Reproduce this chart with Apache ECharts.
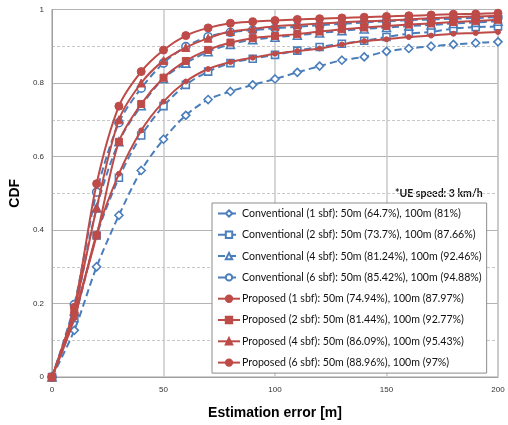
<!DOCTYPE html>
<html>
<head>
<meta charset="utf-8">
<script src="https://cdn.jsdelivr.net/npm/echarts@6/dist/echarts.min.js"></script>
<style>html,body{margin:0;padding:0;background:#fff;}#c{width:508px;height:425px;}</style>
</head>
<body>
<div id="c"></div>
<script>
const xValues = [0,10,20,30,40,50,60,70,80,90,100,110,120,130,140,150,160,170,180,190,200];
const xTicks = [0,50,100,150,200];
const yTicks = [0,0.2,0.4,0.6,0.8,1];
const seriesNames = [
  'Conventional (1 sbf): 50m (64.7%), 100m (81%)',
  'Conventional (2 sbf): 50m (73.7%), 100m (87.66%)',
  'Conventional (4 sbf): 50m (81.24%), 100m (92.46%)',
  'Conventional (6 sbf): 50m (85.42%), 100m (94.88%)',
  'Proposed (1 sbf): 50m (74.94%), 100m (87.97%)',
  'Proposed (2 sbf): 50m (81.44%), 100m (92.77%)',
  'Proposed (4 sbf): 50m (86.09%), 100m (95.43%)',
  'Proposed (6 sbf): 50m (88.96%), 100m (97%)'
];
const conv1 = [0,0.127,0.30,0.44,0.562,0.647,0.712,0.755,0.777,0.795,0.811,0.829,0.846,0.862,0.871,0.886,0.894,0.900,0.905,0.909,0.912];
const conv2 = [0,0.16,0.385,0.542,0.657,0.737,0.795,0.831,0.854,0.866,0.8766,0.888,0.898,0.907,0.915,0.925,0.934,0.939,0.948,0.952,0.954];
const conv4 = [0,0.18,0.46,0.64,0.738,0.8124,0.854,0.885,0.905,0.918,0.9246,0.930,0.936,0.942,0.947,0.951,0.955,0.958,0.962,0.965,0.968];
const conv6 = [0,0.197,0.503,0.692,0.786,0.8542,0.899,0.926,0.938,0.944,0.9488,0.953,0.957,0.961,0.965,0.968,0.971,0.973,0.975,0.977,0.979];
const prop1 = [0,0.16,0.39,0.553,0.671,0.7494,0.804,0.838,0.857,0.869,0.8797,0.887,0.894,0.905,0.914,0.919,0.925,0.929,0.934,0.936,0.939];
const prop2 = [0,0.175,0.385,0.64,0.743,0.8144,0.860,0.890,0.910,0.922,0.9277,0.933,0.940,0.946,0.951,0.955,0.959,0.962,0.966,0.969,0.972];
const prop4 = [0,0.185,0.46,0.70,0.80,0.8609,0.8965,0.922,0.940,0.947,0.9543,0.958,0.962,0.965,0.968,0.970,0.973,0.976,0.979,0.981,0.983];
const prop6 = [0,0.19,0.526,0.737,0.831,0.8896,0.929,0.950,0.9626,0.967,0.970,0.973,0.975,0.977,0.979,0.981,0.983,0.985,0.987,0.988,0.990];

const BLUE = '#4A7EBB', RED = '#BE4B48';
const values = [conv1, conv2, conv4, conv6, prop1, prop2, prop4, prop6];
const symbols = ['diamond','rect','triangle','circle','circle','rect','triangle','circle'];
const sizes = [8,7,8,8,5,7,8,8];

const series = values.map((v, i) => {
  const conv = i < 4;
  const col = conv ? BLUE : RED;
  return {
    name: seriesNames[i],
    type: 'line',
    data: xValues.map((x, k) => [x, v[k]]),
    symbol: symbols[i],
    symbolSize: sizes[i],
    showAllSymbol: true,
    smooth: 0.3,
    lineStyle: {color: col, width: 2, type: conv ? [7,4] : 'solid'},
    itemStyle: conv ? {color: '#fff', borderColor: col, borderWidth: 1.6} : {color: col, borderColor: col, borderWidth: 1},
    emphasis: {disabled: true},
    z: conv ? 2 : 3
  };
});

const chart = echarts.init(document.getElementById('c'), null, {renderer: 'canvas'});
chart.setOption({
  animation: false,
  backgroundColor: '#fff',
  grid: {left: 52, right: 10, top: 9.5, bottom: 46.5, show: true, borderColor: '#a0a0a0', borderWidth: 1},
  xAxis: {
    type: 'value', min: 0, max: 200, interval: 50,
    axisLine: {show: true, onZero: false, lineStyle: {color: '#a0a0a0'}},
    axisTick: {show: false},
    axisLabel: {fontSize: 8, color: '#333', margin: 9, fontFamily: 'Liberation Sans',
      formatter: v => xTicks.includes(v) ? String(v) : ''},
    splitLine: {show: true, lineStyle: {color: '#c8c8c8', width: 1.5}},
    name: 'Estimation error [m]', nameLocation: 'middle', nameGap: 29,
    nameTextStyle: {fontSize: 14, fontWeight: 'bold', color: '#000', fontFamily: 'Liberation Sans'}
  },
  yAxis: {
    type: 'value', min: 0, max: 1, interval: 0.2,
    axisLine: {show: true, lineStyle: {color: '#a0a0a0'}},
    axisTick: {show: false},
    axisLabel: {fontSize: 8, color: '#333', margin: 8, fontFamily: 'Liberation Sans',
      formatter: v => { const t = yTicks.find(y => Math.abs(y - v) < 1e-6); return t === undefined ? '' : String(t); }},
    splitLine: {show: true, lineStyle: {color: '#b4b4b4', width: 1}},
    minorTick: {show: false, splitNumber: 2},
    minorSplitLine: {show: true, lineStyle: {color: '#c8c8c8', width: 1, type: [3,2]}},
    name: 'CDF', nameLocation: 'middle', nameGap: 25,
    nameTextStyle: {fontSize: 14, fontWeight: 'bold', color: '#000', fontFamily: 'Liberation Sans'}
  },
  legend: {
    orient: 'vertical', left: 212, top: 203,
    data: seriesNames,
    backgroundColor: '#fff', borderColor: '#8c8c8c', borderWidth: 1,
    padding: [5, 5, 5, 5],
    itemWidth: 22, itemHeight: 8, itemGap: 10.3,
    textStyle: {fontSize: 10.6, color: '#111', fontFamily: 'Lato', padding: [0,0,0,-3]},
    selectedMode: false
  },
  graphic: [{
    type: 'text', left: 395, top: 188,
    style: {text: '*UE speed: 3 km/h', fontSize: 10.5, fontWeight: 'bold', fill: '#111', fontFamily: 'Lato'}
  }],
  series: series
});
</script>
</body>
</html>
